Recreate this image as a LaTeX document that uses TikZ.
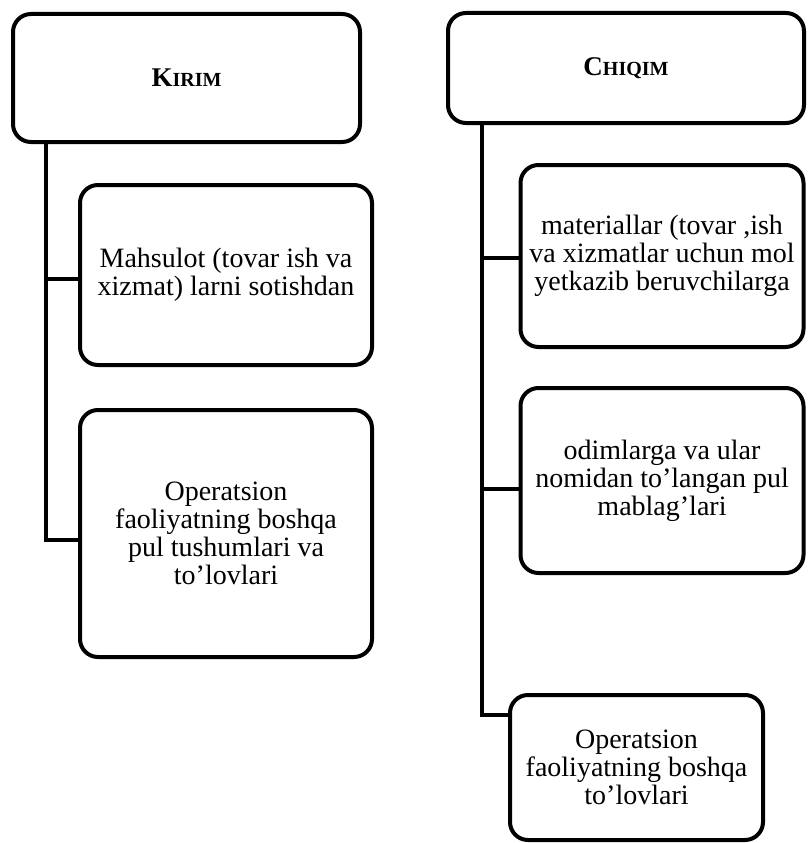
\documentclass[tikz,border=0pt]{standalone}
\usepackage{fontspec}
\setmainfont{Liberation Serif}
\begin{document}
\begin{tikzpicture}[x=1pt,y=-1pt,
  box/.style={draw=black,line width=4pt,rounded corners=18pt,align=center,inner sep=0pt},
  body/.style={font=\fontsize{28}{28}\selectfont},
  head/.style={font=\bfseries},
  conn/.style={draw=black,line width=4pt}]
\useasboundingbox (0,0) rectangle (807,843);
\fill[white] (0,0) rectangle (807,843);
\node[box,head,minimum width=347pt,minimum height=128pt] (kirim) at (186.5,78)
  {{\fontsize{27}{28}\selectfont K}{\fontsize{20}{28}\selectfont IRIM}};
\node[box,body,minimum width=292pt,minimum height=180pt] (l1) at (226,275)
  {Mahsulot (tovar ish va\\xizmat) larni sotishdan};
\node[box,body,minimum width=292pt,minimum height=247pt] (l2) at (226,533.5)
  {Operatsion\\faoliyatning boshqa\\pul tushumlari va\\to'lovlari};
\node[box,head,minimum width=356pt,minimum height=110pt] (chiqim) at (626,68)
  {{\fontsize{27}{28}\selectfont C}{\fontsize{20}{28}\selectfont HIQIM}};
\node[box,body,minimum width=283pt,minimum height=182pt] (r1) at (662,256)
  {materiallar (tovar ,ish\\va xizmatlar uchun mol\\yetkazib beruvchilarga};
\node[box,body,minimum width=283pt,minimum height=185pt] (r2) at (662,480.5)
  {odimlarga va ular\\nomidan to'langan pul\\mablag'lari};
\node[box,body,minimum width=253pt,minimum height=145pt] (r3) at (636.5,767.5)
  {Operatsion\\faoliyatning boshqa\\to'lovlari};
% left connectors
\coordinate (lt) at ([xshift=35pt]kirim.south west);
\coordinate (r3in) at ([yshift=-22pt]r3.north west);
\draw[conn] (lt) |- ([yshift=-4pt]l1.west);
\draw[conn] (lt) |- ([yshift=-6pt]l2.west);
% right connectors
\coordinate (rt) at ([xshift=36pt]chiqim.south west);
\draw[conn] (rt) |- ([yshift=-2pt]r1.west);
\draw[conn] (rt) |- ([yshift=-8pt]r2.west);
\draw[conn] (rt) |- (r3in);
\end{tikzpicture}
\end{document}
